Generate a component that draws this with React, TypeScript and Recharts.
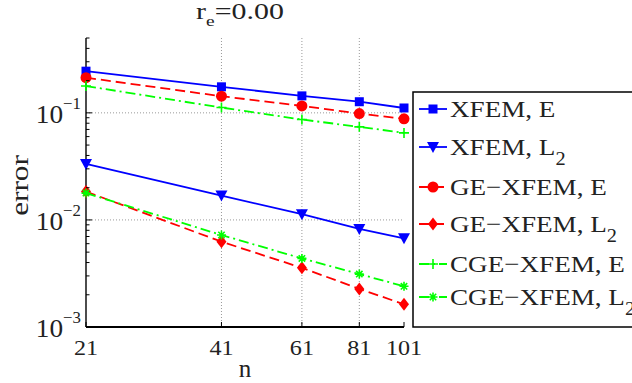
import { LineChart, Line, XAxis, YAxis, ReferenceLine } from 'recharts';

const nValues = [21, 41, 61, 81, 101];
const xfemE = [0.245, 0.175, 0.144, 0.127, 0.111];
const xfemL2 = [0.0333, 0.0169, 0.0113, 0.00824, 0.00674];
const geE = [0.213, 0.143, 0.116, 0.0985, 0.088];
const geL2 = [0.0184, 0.00626, 0.00357, 0.00227, 0.00163];
const cgeE = [0.178, 0.112, 0.0866, 0.074, 0.065];
const cgeL2 = [0.0178, 0.00723, 0.00437, 0.00312, 0.0024];

const yTicks = [
  0.001, 0.002, 0.003, 0.004, 0.005, 0.006, 0.007, 0.008, 0.009,
  0.01, 0.02, 0.03, 0.04, 0.05, 0.06, 0.07, 0.08, 0.09,
  0.1, 0.2, 0.3, 0.4, 0.5,
];
const majorY = [0.001, 0.01, 0.1];
const gridX = [41, 61, 81];

const FONT = 'Liberation Serif, Times New Roman, serif';
const INK = '#222';

type Shape = 'square' | 'triangle' | 'circle' | 'diamond' | 'plus' | 'star';

const series: { key: string; name: string; sub?: string; color: string; dash?: string; shape: Shape; values: number[] }[] = [
  { key: 'xfemE', name: 'XFEM, E', color: '#0000ff', shape: 'square', values: xfemE },
  { key: 'xfemL2', name: 'XFEM, L', sub: '2', color: '#0000ff', shape: 'triangle', values: xfemL2 },
  { key: 'geE', name: 'GE\u2212XFEM, E', color: '#ff0000', dash: '10 5', shape: 'circle', values: geE },
  { key: 'geL2', name: 'GE\u2212XFEM, L', sub: '2', color: '#ff0000', dash: '10 5', shape: 'diamond', values: geL2 },
  { key: 'cgeE', name: 'CGE\u2212XFEM, E', color: '#00ff00', dash: '10 4 2 4', shape: 'plus', values: cgeE },
  { key: 'cgeL2', name: 'CGE\u2212XFEM, L', sub: '2', color: '#00ff00', dash: '10 4 2 4', shape: 'star', values: cgeL2 },
];

const data = nValues.map((n, i) => {
  const row: Record<string, number> = { n };
  series.forEach((s) => (row[s.key] = s.values[i]));
  return row;
});

function Marker({ shape, cx, cy, color }: { shape: Shape; cx: number; cy: number; color: string }) {
  switch (shape) {
    case 'square':
      return <rect x={cx - 4.5} y={cy - 4.5} width={9} height={9} fill={color} />;
    case 'triangle':
      return <polygon points={`${cx - 6},${cy - 5} ${cx + 6},${cy - 5} ${cx},${cy + 6}`} fill={color} />;
    case 'circle':
      return <circle cx={cx} cy={cy} r={5.5} fill={color} />;
    case 'diamond':
      return <polygon points={`${cx},${cy - 6.5} ${cx + 5},${cy} ${cx},${cy + 6.5} ${cx - 5},${cy}`} fill={color} />;
    case 'plus':
      return <path d={`M${cx - 5},${cy}H${cx + 5}M${cx},${cy - 5}V${cy + 5}`} stroke={color} strokeWidth={1.6} />;
    default:
      return (
        <path
          d={`M${cx - 4.5},${cy}H${cx + 4.5}M${cx},${cy - 4.5}V${cy + 4.5}M${cx - 3.2},${cy - 3.2}L${cx + 3.2},${cy + 3.2}M${cx - 3.2},${cy + 3.2}L${cx + 3.2},${cy - 3.2}`}
          stroke={color}
          strokeWidth={1.6}
        />
      );
  }
}

const exponent = (v: number) => Math.round(Math.log10(v));
const isMajor = (v: number) => majorY.some((m) => Math.abs(m - v) < 1e-9);

// text in the reference is a bit wider than Times, stretch it horizontally
const stretch = (x: number, k = 1.12) => `translate(${x},0) scale(${k},1) translate(${-x},0)`;

const LeftTick = (props: any) => {
  const { x, y, payload } = props;
  const v = payload.value;
  const major = isMajor(v);
  return (
    <g>
      <line x1={x} x2={x + (major ? 6 : 3.5)} y1={y} y2={y} stroke="#000" strokeWidth={1} />
      {major && (
        <text x={x - 5} y={y + 10} textAnchor="end" fontFamily={FONT} fontSize={26} fill={INK} transform={stretch(x - 5, 1.05)}>
          10
          <tspan dy={-14} fontSize={16}>
            {'\u2212' + Math.abs(exponent(v))}
          </tspan>
        </text>
      )}
    </g>
  );
};

const RightTick = (props: any) => {
  const { x, y, payload } = props;
  const major = isMajor(payload.value);
  return <line x1={x - (major ? 6 : 3.5)} x2={x} y1={y} y2={y} stroke="#000" strokeWidth={1} />;
};

const BottomTick = (props: any) => {
  const { x, y, payload } = props;
  return (
    <g>
      <line x1={x} x2={x} y1={y} y2={y - 5} stroke="#000" />
      <text x={x} y={y + 28} textAnchor="middle" fontFamily={FONT} fontSize={21} fill={INK} transform={stretch(x, 1.15)}>
        {payload.value}
      </text>
    </g>
  );
};

const TopTick = (props: any) => {
  const { x, y } = props;
  return <line x1={x} x2={x} y1={y} y2={y + 5} stroke="#000" />;
};

const ErrorLabel = (props: any) => {
  const vb = props.viewBox || { y: 38, height: 289 };
  const cy = vb.y + vb.height / 2 + 3;
  return (
    <text
      x={28}
      y={cy}
      transform={`rotate(-90, 28, ${cy}) ${stretch(28, 1.25)}`}
      textAnchor="middle"
      fontFamily={FONT}
      fontSize={25}
      fill={INK}
    >
      error
    </text>
  );
};

const legendRows = [18, 56, 96, 133, 173, 206];

function LegendBox() {
  return (
    <svg width={232} height={240} style={{ position: 'absolute', left: 412, top: 91 }}>
      <rect x={1} y={1} width={240} height={235} fill="#fff" stroke="#000" strokeWidth={1.5} />
      {series.map((s, i) => {
        const cy = legendRows[i];
        return (
          <g key={s.key}>
            <line x1={7} x2={35} y1={cy} y2={cy} stroke={s.color} strokeWidth={1.8} strokeDasharray={s.dash} />
            <Marker shape={s.shape} cx={21} cy={cy} color={s.color} />
            <text x={38} y={cy + 8} fontFamily={FONT} fontSize={24} fill={INK} transform={stretch(38, 1.13)}>
              {s.name}
              {s.sub && (
                <tspan dy={10} fontSize={18}>
                  {s.sub}
                </tspan>
              )}
            </text>
          </g>
        );
      })}
    </svg>
  );
}

export default function App() {
  return (
    <div style={{ position: 'absolute', left: 0, top: 0, width: 632, height: 383, background: '#fff' }}>
      <svg width={632} height={40} style={{ position: 'absolute', left: 0, top: 0 }}>
        <text x={240} y={19} textAnchor="middle" fontFamily={FONT} fontSize={23} fill={INK} transform={stretch(240, 1.3)}>
          r
          <tspan dy={7} fontSize={15}>
            e
          </tspan>
          <tspan dy={-7}>=0.00</tspan>
        </text>
      </svg>
      <LineChart width={632} height={383} data={data} margin={{ top: 38, right: 228, bottom: 0, left: 26 }}>
        <XAxis
          xAxisId="b"
          dataKey="n"
          type="number"
          scale="log"
          domain={[21, 101]}
          ticks={nValues}
          interval={0}
          tick={<BottomTick />}
          tickSize={0}
          tickMargin={0}
          tickLine={false}
          axisLine={{ stroke: '#000', strokeWidth: 2 }}
          height={56}
          label={{ value: 'n', position: 'insideBottom', offset: 6, fontSize: 25, fill: INK, fontFamily: FONT }}
        />
        <XAxis
          xAxisId="t"
          orientation="top"
          dataKey="n"
          type="number"
          scale="log"
          domain={[21, 101]}
          ticks={nValues}
          interval={0}
          tick={<TopTick />}
          tickSize={0}
          tickMargin={0}
          tickLine={false}
          axisLine={{ stroke: '#000', strokeWidth: 1.2 }}
          height={0}
        />
        <YAxis
          yAxisId="l"
          type="number"
          scale="log"
          domain={[0.001, 0.5]}
          ticks={yTicks}
          interval={0}
          tick={<LeftTick />}
          tickSize={0}
          tickMargin={0}
          tickLine={false}
          axisLine={{ stroke: '#000', strokeWidth: 1.4 }}
          width={60}
          label={<ErrorLabel />}
        />
        <YAxis
          yAxisId="r"
          orientation="right"
          type="number"
          scale="log"
          domain={[0.001, 0.5]}
          ticks={yTicks}
          interval={0}
          tick={<RightTick />}
          tickSize={0}
          tickMargin={0}
          tickLine={false}
          axisLine={{ stroke: '#000', strokeWidth: 1.4 }}
          width={0}
        />
        {gridX.map((g) => (
          <ReferenceLine key={`gx${g}`} x={g} xAxisId="b" yAxisId="l" stroke="#999" strokeDasharray="1 2" />
        ))}
        {[0.01, 0.1].map((g) => (
          <ReferenceLine key={`gy${g}`} y={g} xAxisId="b" yAxisId="l" stroke="#999" strokeDasharray="1 2" />
        ))}
        {series.map((s) => (
          <Line
            key={s.key}
            xAxisId="b"
            yAxisId="l"
            dataKey={s.key}
            stroke={s.color}
            strokeWidth={1.8}
            strokeDasharray={s.dash}
            isAnimationActive={false}
            dot={(p: any) => (
              <g key={`${s.key}-${p.index}`}>
                <Marker shape={s.shape} cx={p.cx} cy={p.cy} color={s.color} />
              </g>
            )}
            activeDot={false}
          />
        ))}
      </LineChart>
      <LegendBox />
    </div>
  );
}
